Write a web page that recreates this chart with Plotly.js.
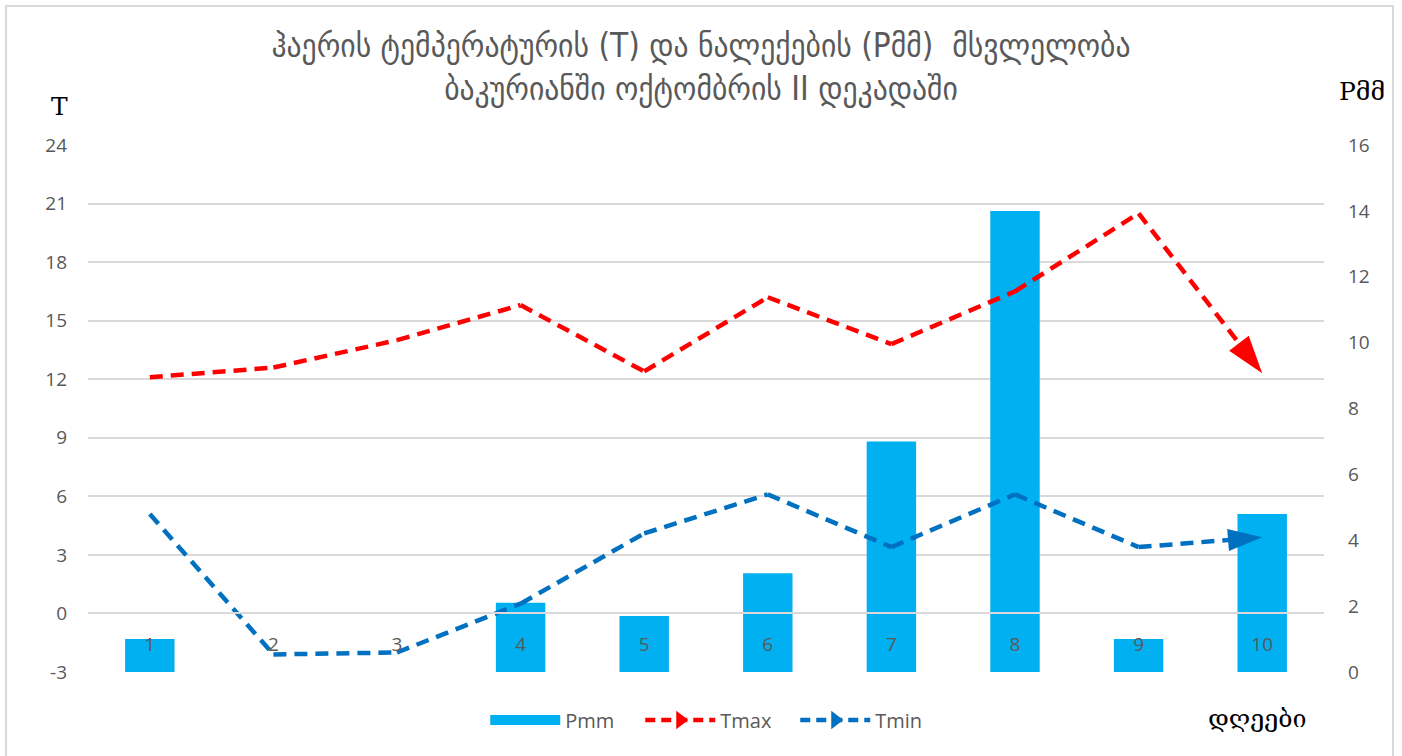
<!DOCTYPE html>
<html>
<head>
<meta charset="utf-8">
<script src="https://cdn.plot.ly/plotly-3.0.1.min.js"></script>
<style>
  html, body { margin: 0; padding: 0; background: #ffffff; }
  #chart { width: 1402px; height: 756px; }
</style>
</head>
<body>
<div id="chart"></div>
<script>
// ---- data ----
const days = ['1', '2', '3', '4', '5', '6', '7', '8', '9', '10'];
const pmm  = [1.0, 0, 0, 2.1, 1.7, 3.0, 7.0, 14.0, 1.0, 4.8];
const tmax = [12.1, 12.6, 14.0, 15.8, 12.4, 16.2, 13.8, 16.5, 20.5, 12.3];
const tmin = [5.1, -2.1, -2.0, 0.5, 4.1, 6.1, 3.4, 6.1, 3.4, 3.9];
const tTicks = [-3, 0, 3, 6, 9, 12, 15, 18, 21, 24];
const pTicks = [0, 2, 4, 6, 8, 10, 12, 14, 16];

const titleLines = ['ჰაერის ტემპერატურის (T) და ნალექების (Pმმ)  მსვლელობა',
                    'ბაკურიანში ოქტომბრის II დეკადაში'];
const seriesNames = ['Pmm', 'Tmax', 'Tmin'];

const GRAY = '#595959';
const GRID = '#D9D9D9';
const BLUE_BAR = '#00B0F0';
const RED = '#FF0000';
const BLUE_LINE = '#0070C0';
const TICKFONT = {family: 'Open Sans, Liberation Sans, sans-serif', size: 19, color: GRAY};

function arrowMarker(n, color, size) {
  const sizes = days.map((d, i) => (i === n - 1 ? size : 0));
  return {symbol: 'arrow', angleref: 'previous', size: sizes, color: color,
          opacity: 1, line: {width: 0}};
}

const traces = [
  // bars (primary y, right side)
  {type: 'bar', x: days, y: pmm, name: seriesNames[0], marker: {color: BLUE_BAR},
   width: 0.4, xaxis: 'x', yaxis: 'y', showlegend: false, hoverinfo: 'x+y'},
  // Tmax line with arrow at end
  {type: 'scatter', mode: 'lines+markers', x: days, y: tmax, name: seriesNames[1],
   xaxis: 'x', yaxis: 'y2', line: {color: RED, width: 4.5, dash: '13px,8px'},
   marker: arrowMarker(days.length, RED, 40), showlegend: false, cliponaxis: false},
  // Tmin line with arrow at end
  {type: 'scatter', mode: 'lines+markers', x: days, y: tmin, name: seriesNames[2],
   xaxis: 'x', yaxis: 'y2', line: {color: BLUE_LINE, width: 4.5, dash: '13px,8px'},
   marker: arrowMarker(days.length, BLUE_LINE, 36), showlegend: false, cliponaxis: false},
  // legend entries
  {type: 'scatter', mode: 'lines', x: [null], y: [null], name: seriesNames[0],
   xaxis: 'x', yaxis: 'y', line: {color: BLUE_BAR, width: 14}, hoverinfo: 'skip'},
  {type: 'scatter', mode: 'lines+markers', x: [null], y: [null], name: seriesNames[1],
   xaxis: 'x', yaxis: 'y2', line: {color: RED, width: 4.5, dash: '10px,6px'},
   marker: {symbol: 'triangle-right', size: 24, color: RED}, hoverinfo: 'skip'},
  {type: 'scatter', mode: 'lines+markers', x: [null], y: [null], name: seriesNames[2],
   xaxis: 'x', yaxis: 'y2', line: {color: BLUE_LINE, width: 4.5, dash: '10px,6px'},
   marker: {symbol: 'triangle-right', size: 24, color: BLUE_LINE}, hoverinfo: 'skip'}
];

const layout = {
  width: 1402, height: 756,
  margin: {l: 88, r: 78, t: 145, b: 84, pad: 0},
  paper_bgcolor: '#ffffff', plot_bgcolor: '#ffffff',
  font: {family: 'Open Sans, Liberation Sans, sans-serif', color: GRAY},
  title: {
    text: titleLines.join('<br>'),
    font: {family: 'DejaVu Sans Condensed, DejaVu Sans, sans-serif', size: 33, color: GRAY},
    x: 0.5, xref: 'container', xanchor: 'center',
    y: 0.925, yref: 'container', yanchor: 'middle'
  },
  bargap: 0.6,
  xaxis: {
    type: 'category', range: [-0.5, days.length - 0.5], autorange: false,
    anchor: 'free', position: 3 / 27,
    showline: true, linecolor: GRID, linewidth: 2, layer: 'above traces',
    showgrid: false, zeroline: false, ticks: '',
    tickfont: TICKFONT, ticklabelstandoff: 14
  },
  yaxis: {
    side: 'right', range: [0, 16], tickvals: pTicks, ticktext: pTicks.map(String),
    showgrid: false, zeroline: false,
    showline: false, ticks: '', tickfont: TICKFONT, ticklabelstandoff: 23
  },
  yaxis2: {
    side: 'left', overlaying: 'y', range: [-3, 24], tickvals: tTicks, ticktext: tTicks.map(String),
    showgrid: true, gridcolor: GRID, gridwidth: 2, zeroline: false, showline: false,
    ticks: '', tickfont: TICKFONT, ticklabelstandoff: 20
  },
  legend: {
    orientation: 'h', x: 0.5095, xanchor: 'center', y: -0.091, yanchor: 'middle',
    font: {family: 'Open Sans, Liberation Sans, sans-serif', size: 20, color: GRAY},
    itemwidth: 70, entrywidth: 70, traceorder: 'normal', bgcolor: 'rgba(0,0,0,0)'
  },
  annotations: [
    {text: 'T', xref: 'paper', yref: 'paper', x: -0.0227, y: 1.074, showarrow: false,
     xanchor: 'center', yanchor: 'middle',
     font: {family: 'DejaVu Serif, Liberation Serif, serif', size: 25, color: '#000000'}},
    {text: 'Pმმ', xref: 'paper', yref: 'paper', x: 1.0307, y: 1.1006, showarrow: false,
     xanchor: 'center', yanchor: 'middle',
     font: {family: 'DejaVu Serif, Liberation Serif, serif', size: 25, color: '#000000'}},
    {text: 'დღეები', xref: 'paper', yref: 'paper', x: 0.9466, y: -0.0873, showarrow: false,
     xanchor: 'center', yanchor: 'middle',
     font: {family: 'DejaVu Serif, DejaVu Sans, serif', size: 25, color: '#000000'}}
  ],
  shapes: [
    {type: 'rect', xref: 'paper', yref: 'paper', x0: -0.0663, x1: 1.0558, y0: -0.17, y1: 1.2638,
     line: {color: GRID, width: 2}, fillcolor: 'rgba(0,0,0,0)', layer: 'below'}
  ]
};

Plotly.newPlot('chart', traces, layout, {displayModeBar: false, staticPlot: true});
</script>
</body>
</html>
